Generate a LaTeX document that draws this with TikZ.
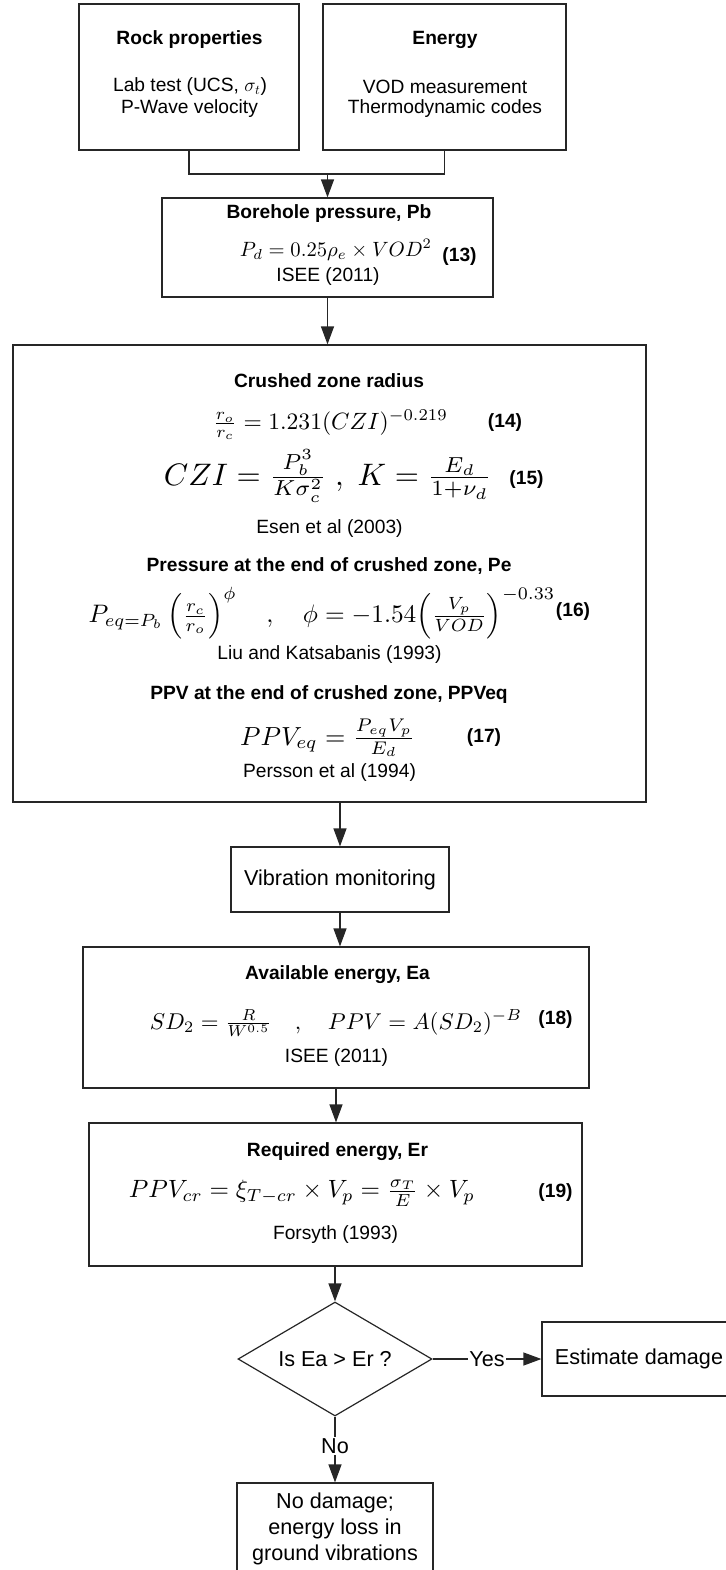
\documentclass[tikz,border=0pt]{standalone}
\usepackage[no-math]{fontspec}
\setmainfont{Liberation Sans}
\usepackage{graphicx}
\usetikzlibrary{arrows.meta,shapes.geometric}

\tikzset{
  box/.style={draw=black!85, line width=0.9pt, inner sep=0pt},
  line/.style={draw=black!85, line width=0.9pt},
  arr/.style={line, -{Triangle[length=13.5pt,width=9.75pt]}},
  title/.style={inner sep=1pt, font=\fontsize{14.4}{17}\selectfont\bfseries},
  txt/.style={inner sep=1pt, font=\fontsize{14.4}{17}\selectfont},
  big/.style={font=\fontsize{16.2}{19.5}\selectfont},
  eqno/.style={inner sep=1pt, font=\fontsize{14.4}{17}\selectfont\bfseries},
  eqn/.style={inner sep=0pt},
}

\begin{document}
\begin{tikzpicture}[x=0.75pt, y=-0.75pt]
  \useasboundingbox (0,0) rectangle (725,1570);

  % boxes
  \node[box, minimum width=165pt, minimum height=109.5pt] (rock) at (189,77) {};
  \node[box, minimum width=182.25pt, minimum height=109.5pt] (energy) at (444.5,77) {};
  \node[box, minimum width=248.25pt, minimum height=74.25pt] (bore) at (327.5,247.5) {};
  \node[box, minimum width=474.75pt, minimum height=342.75pt] (crush) at (329.5,573.5) {};
  \node[box, big, minimum width=163.5pt, minimum height=48.75pt] (vib) at (340,879.5) {Vibration monitoring};
  \node[box, minimum width=379.5pt, minimum height=105.75pt] (avail) at (336,1017.5) {};
  \node[box, minimum width=369.75pt, minimum height=107.25pt] (req) at (335.5,1194.5) {};
  \node[box, diamond, aspect=1.7, big, minimum width=145.5pt, minimum height=85.5pt] (dec) at (335,1359) {Is Ea > Er ?};
  \node[box, big, minimum width=145.5pt, minimum height=55.5pt] (est) at (639,1359) {Estimate damage};
  \node[box, big, align=center, minimum width=147pt, minimum height=69pt] (nodmg) at (335,1529) {No damage;\\energy loss in\\ground vibrations};

  % titles and sources
  \foreach \n/\x/\y/\t in {trock/189.5/40/Rock properties, tenergy/445/40/Energy,
      tbore/329/214/{Borehole pressure, Pb}, tcrush/329/381/Crushed zone radius,
      tpe/329/566/{Pressure at the end of crushed zone, Pe},
      tppv/329/695/{PPV at the end of crushed zone, PPVeq},
      tavail/337.5/975/{Available energy, Ea}, treq/337.5/1152/{Required energy, Er}}
    \node[title] (\n) at (\x,\y) {\t};
  \foreach \n/\x/\y/\t in {lab/190/87/{Lab test (UCS, $\sigma_t$)}, pwave/189.5/109/P-Wave velocity,
      vod/445/87/VOD measurement, thermo/445/109/Thermodynamic codes,
      isee/328/277/ISEE (2011), esen/329.5/529/Esen et al (2003),
      liu/329.5/655/Liu and Katsabanis (1993), persson/329.5/773/Persson et al (1994),
      iseeb/336.5/1058/ISEE (2011), forsyth/335.5/1235/Forsyth (1993)}
    \node[txt] (\n) at (\x,\y) {\t};
  \foreach \n/\x/\y in {13/459.5/257, 14/505/423, 15/526.5/480, 16/573/612,
      17/484/738, 18/555.5/1020, 19/555.5/1193}
    \node[eqno] (n\n) at (\x,\y) {(\n)};

  % equations
  \node[eqn] (e13) at (336,250) {\resizebox{144pt}{!}{$P_d = 0.25\rho_e \times VOD^2$}};
  \node[eqn] (e14) at (330.5,425) {\resizebox{176pt}{!}{$\frac{r_o}{r_c} = 1.231(CZI)^{-0.219}$}};
  \node[eqn] (e15) at (328,476) {\resizebox{246pt}{!}{$CZI = \frac{P_b^3}{K\sigma_c^2}\;,\;K = \frac{E_d}{1+\nu_d}$}};
  \node[eqn] (e16) at (322,613) {\resizebox{350pt}{!}{$P_{eq=P_b}\left(\frac{r_c}{r_o}\right)^{\phi}\quad,\quad \phi = -1.54\Bigl(\frac{V_p}{VOD}\Bigr)^{-0.33}$}};
  \node[eqn] (e17) at (327.5,738) {\resizebox{131pt}{!}{$PPV_{eq} = \frac{P_{eq}V_p}{E_d}$}};
  \node[eqn] (e18) at (336,1023) {\resizebox{279pt}{!}{$SD_2 = \frac{R}{W^{0.5}}\quad,\quad PPV = A(SD_2)^{-B}$}};
  \node[eqn] (e19) at (302,1193) {\resizebox{259.5pt}{!}{$PPV_{cr} = \xi_{T-cr}\times V_p = \frac{\sigma_T}{E}\times V_p$}};

  % connectors
  \coordinate (join) at (327.5,174);
  \draw[line] (rock.south) |- (join) -| (energy.south);
  \draw[arr] (join) -- (bore.north);
  \draw[arr] (bore.south) -- (bore.south |- crush.north);
  \draw[arr] (vib.north |- crush.south) -- (vib.north);
  \draw[arr] (vib.south) -- (vib.south |- avail.north);
  \draw[arr] (avail.south) -- (avail.south |- req.north);
  \draw[arr] (req.south -| dec.north) -- (dec.north);
  \draw[arr] (dec.east) -- node[big, fill=white, inner sep=1pt] (yes) {Yes} (est.west);
  \draw[arr] (dec.south) -- node[big, fill=white, inner sep=1pt, pos=0.45] (no) {No} (nodmg.north);
\end{tikzpicture}
\end{document}
